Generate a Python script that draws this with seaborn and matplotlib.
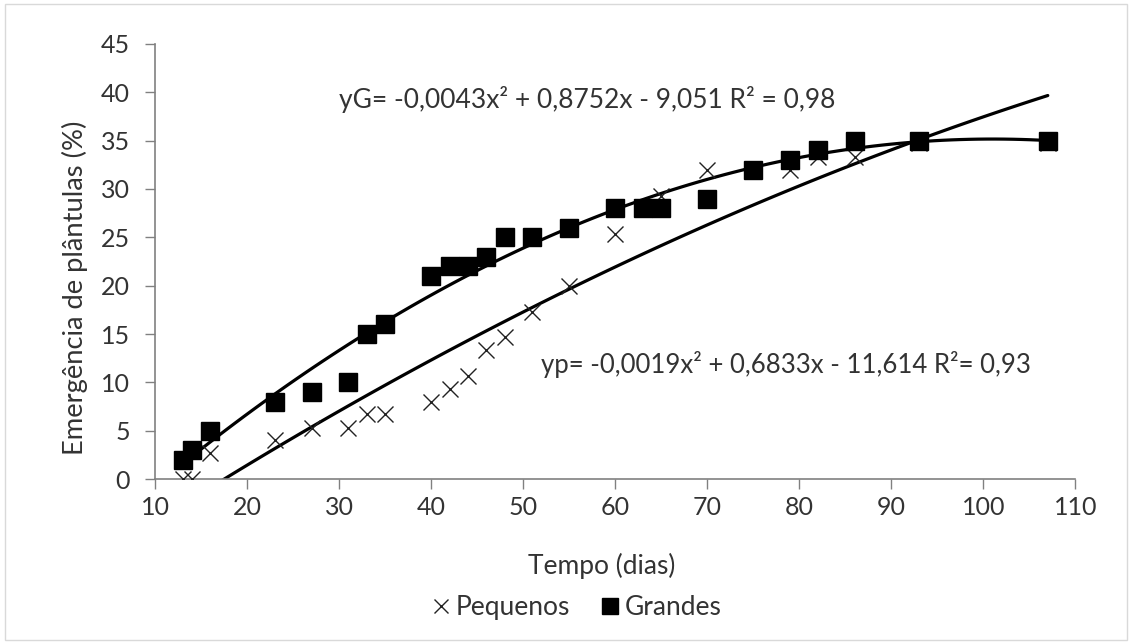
import numpy as np
import pandas as pd
import seaborn as sns
import matplotlib.pyplot as plt
from matplotlib.patches import Rectangle

# dados
dias_peq = [13, 14, 16, 23, 27, 31, 33, 35, 40, 42, 44, 46, 48, 51, 55, 60, 65, 70, 79, 82, 86, 93, 107]
peq = [0, 0, 2.7, 4, 5.3, 5.3, 6.7, 6.7, 8, 9.3, 10.7, 13.3, 14.7, 17.3, 20, 25.3, 29.3, 32, 32, 33.3, 33.3, 34.7, 34.7]

dias_gra = [13, 14, 16, 23, 27, 31, 33, 35, 40, 42, 44, 46, 48, 51, 55, 60, 63, 65, 70, 75, 79, 82, 86, 93, 107]
gra = [2, 3, 5, 8, 9, 10, 15, 16, 21, 22, 22, 23, 25, 25, 26, 28, 28, 28, 29, 32, 33, 34, 35, 35, 35]

eq_g = 'yG= -0,0043x² + 0,8752x - 9,051 R² = 0,98'
eq_p = 'yp= -0,0019x² + 0,6833x - 11,614 R²= 0,93'

df_p = pd.DataFrame({'Tempo': dias_peq, 'Emerg': peq})
df_g = pd.DataFrame({'Tempo': dias_gra, 'Emerg': gra})

sns.set_style('white')
plt.rcParams['font.family'] = ['Lato', 'DejaVu Sans']
txt = '#333333'

fig = plt.figure(figsize=(11.32, 6.44), dpi=100)
ax = fig.add_axes([0.137, 0.256, 0.813, 0.676])

# linhas de tendência polinomiais (ordem 2)
sns.regplot(data=df_p, x='Tempo', y='Emerg', order=2, ci=None, scatter=False,
            truncate=True, color='black', line_kws={'lw': 2.3}, ax=ax)
sns.regplot(data=df_g, x='Tempo', y='Emerg', order=2, ci=None, scatter=False,
            truncate=True, color='black', line_kws={'lw': 2.3}, ax=ax)

ax.plot(df_p['Tempo'], df_p['Emerg'], ls='none', marker='x', ms=11.5, mew=1.0,
        color='#222222', label='Pequenos', zorder=3)
ax.plot(df_g['Tempo'], df_g['Emerg'], ls='none', marker='s', ms=12.5,
        color='black', label='Grandes', zorder=3)

ax.set_xlim(10, 110)
ax.set_ylim(0, 45)
ax.set_xticks(range(10, 111, 10))
ax.set_yticks(range(0, 46, 5))
ax.tick_params(labelsize=18, labelcolor=txt, direction='out', length=7, width=1,
               color='#808080', bottom=True, left=True)
ax.tick_params(axis='x', pad=5)
ax.tick_params(axis='y', pad=11)
for s in ['top', 'right']:
    ax.spines[s].set_visible(False)
for s in ['left', 'bottom']:
    ax.spines[s].set_color('#808080')
    ax.spines[s].set_linewidth(1.2)

ax.set_xlabel('Tempo (dias)', fontsize=19, color=txt)
ax.set_ylabel('Emergência de plântulas (%)', fontsize=19.7, color=txt)
ax.xaxis.set_label_coords(0.485, -0.17)
ax.yaxis.set_label_coords(-0.073, 0.44)

ax.text(57.0, 39.2, eq_g, fontsize=19, color=txt, ha='center', va='center')
ax.text(78.5, 11.8, eq_p, fontsize=18.5, color=txt, ha='center', va='center')

ax.legend(loc='upper center', bbox_to_anchor=(0.458, -0.212), ncol=2, frameon=False,
          fontsize=19, labelcolor=txt, handlelength=0.7, handletextpad=0.2,
          columnspacing=1.2, markerscale=0.9)

fig.patches.append(Rectangle((0.004, 0.006), 0.992, 0.988, transform=fig.transFigure,
                             fill=False, edgecolor='#d9d9d9', lw=1))

fig.savefig('out.png', dpi=100)
